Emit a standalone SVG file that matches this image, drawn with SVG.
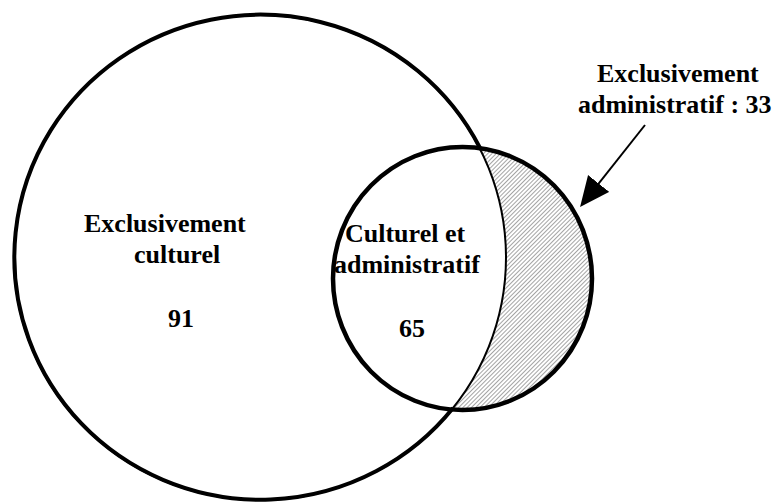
<svg xmlns="http://www.w3.org/2000/svg" width="777" height="504" viewBox="0 0 777 504">
  <style>
    .lbl { font-family: "Liberation Serif", "Times New Roman", serif; font-weight: bold; font-size: 26px; fill: #000; }
    .ring { fill: none; stroke: #000; }
    .conn { stroke: #000; stroke-width: 2; fill: none; }
  </style>
  <defs>
    <pattern id="hatch" width="3" height="3" patternUnits="userSpaceOnUse" patternTransform="rotate(45)">
      <rect width="3" height="3" fill="#fff"/>
      <line x1="0" y1="0" x2="0" y2="3" stroke="#666" stroke-width="1.2"/>
    </pattern>
    <clipPath id="outsideBig">
      <path clip-rule="evenodd" d="M0,0 H777 V504 H0 Z M14,257.5 A246,242.5 0 1,0 506,257.5 A246,242.5 0 1,0 14,257.5 Z"/>
    </clipPath>
    <marker id="arrowhead" markerUnits="userSpaceOnUse" markerWidth="32" markerHeight="28" refX="18" refY="13.5" orient="auto">
      <path d="M0,0 L30,13.5 L0,27 Z" fill="#000"/>
    </marker>
  </defs>
  <rect width="777" height="504" fill="#fff"/>

  <g id="exclusif-administratif">
    <ellipse cx="462.5" cy="278.5" rx="129.5" ry="131.5" fill="url(#hatch)" clip-path="url(#outsideBig)"/>
  </g>

  <g id="culturel">
    <ellipse class="ring" stroke-width="2" cx="260" cy="257.5" rx="246" ry="242.5"/>
    <path class="ring" stroke-width="4" d="M480,148 A246,242.5 0 1,0 453,408"/>
    <text class="lbl" x="84" y="232">Exclusivement</text>
    <text class="lbl" x="134" y="263">culturel</text>
    <text class="lbl" x="168" y="327">91</text>
  </g>

  <g id="administratif">
    <ellipse class="ring" stroke-width="4.5" cx="462.5" cy="278.5" rx="129.5" ry="131.5"/>
    <text class="lbl" x="345" y="242">Culturel et</text>
    <text class="lbl" x="334" y="273">administratif</text>
    <text class="lbl" x="399" y="337">65</text>
  </g>

  <g id="label-exclusif-administratif">
    <text class="lbl" x="597" y="82">Exclusivement</text>
    <text class="lbl" x="578" y="113">administratif : 33</text>
  </g>

  <g id="connectors">
    <line class="conn" x1="645" y1="125" x2="587.5" y2="197.6" marker-end="url(#arrowhead)"/>
  </g>
</svg>
